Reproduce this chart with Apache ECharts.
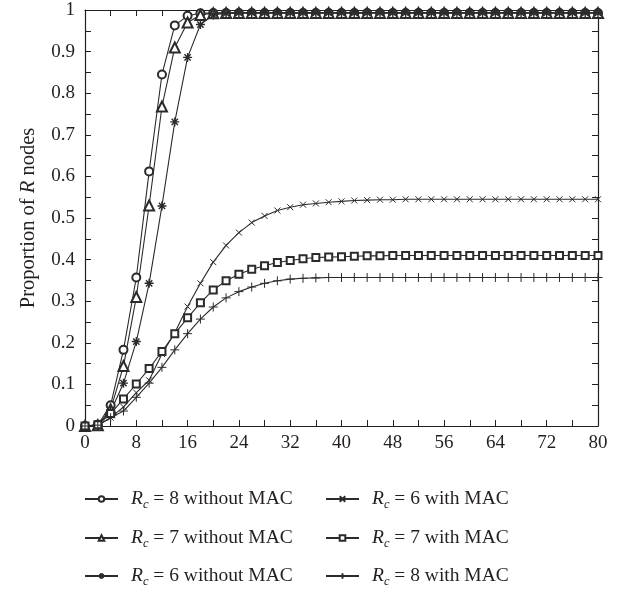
<!DOCTYPE html>
<html>
<head>
<meta charset="utf-8">
<script src="https://cdn.jsdelivr.net/npm/echarts@6/dist/echarts.min.js"></script>
<style>
  html, body { margin: 0; padding: 0; background: #fff; }
  #main { width: 625px; height: 592px; }
</style>
</head>
<body>
<div id="main"></div>
<script>
// sampling points on the x axis
var steps = [0, 2, 4, 6, 8, 10, 12, 14, 16, 18, 20, 22, 24, 26, 28, 30, 32, 34, 36, 38, 40,
             42, 44, 46, 48, 50, 52, 54, 56, 58, 60, 62, 64, 66, 68, 70, 72, 74, 76, 78, 80];

// without MAC
var rc8NoMac = [0, 0.003, 0.05, 0.183, 0.357, 0.612, 0.845, 0.963, 0.986, 0.992, 0.993,
                0.993, 0.993, 0.993, 0.993, 0.993, 0.993, 0.993, 0.993, 0.993, 0.993,
                0.993, 0.993, 0.993, 0.993, 0.993, 0.993, 0.993, 0.993, 0.993, 0.993,
                0.993, 0.993, 0.993, 0.993, 0.993, 0.993, 0.993, 0.993, 0.993, 0.993];
var rc7NoMac = [0, 0.002, 0.04, 0.144, 0.31, 0.53, 0.768, 0.91, 0.97, 0.988, 0.992,
                0.993, 0.993, 0.993, 0.993, 0.993, 0.993, 0.993, 0.993, 0.993, 0.993,
                0.993, 0.993, 0.993, 0.993, 0.993, 0.993, 0.993, 0.993, 0.993, 0.993,
                0.993, 0.993, 0.993, 0.993, 0.993, 0.993, 0.993, 0.993, 0.993, 0.993];
var rc6NoMac = [0, 0.002, 0.035, 0.103, 0.203, 0.343, 0.529, 0.731, 0.886, 0.965, 0.988,
                0.992, 0.993, 0.993, 0.993, 0.993, 0.993, 0.993, 0.993, 0.993, 0.993,
                0.993, 0.993, 0.993, 0.993, 0.993, 0.993, 0.993, 0.993, 0.993, 0.993,
                0.993, 0.993, 0.993, 0.993, 0.993, 0.993, 0.993, 0.993, 0.993, 0.993];
// with MAC
var rc6Mac = [0, 0.002, 0.02, 0.046, 0.08, 0.11, 0.173, 0.224, 0.287, 0.343, 0.394,
              0.434, 0.465, 0.489, 0.505, 0.518, 0.526, 0.532, 0.535, 0.538, 0.54,
              0.542, 0.543, 0.544, 0.544, 0.545, 0.545, 0.545, 0.545, 0.545, 0.545,
              0.545, 0.545, 0.545, 0.545, 0.545, 0.545, 0.545, 0.545, 0.545, 0.545];
var rc7Mac = [0, 0.003, 0.03, 0.065, 0.101, 0.138, 0.179, 0.222, 0.26, 0.296, 0.327,
              0.349, 0.365, 0.377, 0.385, 0.393, 0.398, 0.402, 0.405, 0.406, 0.407,
              0.408, 0.409, 0.409, 0.41, 0.41, 0.41, 0.41, 0.41, 0.41, 0.41,
              0.41, 0.41, 0.41, 0.41, 0.41, 0.41, 0.41, 0.41, 0.41, 0.41];
var rc8Mac = [0, 0.002, 0.02, 0.036, 0.069, 0.103, 0.141, 0.183, 0.222, 0.257, 0.286,
              0.308, 0.323, 0.334, 0.343, 0.349, 0.353, 0.355, 0.356, 0.357, 0.357,
              0.357, 0.357, 0.357, 0.357, 0.357, 0.357, 0.357, 0.357, 0.357, 0.357,
              0.357, 0.357, 0.357, 0.357, 0.357, 0.357, 0.357, 0.357, 0.357, 0.357];

var names = ['Rc = 8 without MAC', 'Rc = 7 without MAC', 'Rc = 6 without MAC',
             'Rc = 6 with MAC', 'Rc = 7 with MAC', 'Rc = 8 with MAC'];

var ink = '#231f20';
var serif = 'Liberation Serif';
var fs = 19;

var starPath = 'path://M5,0L5,10M0,5L10,5M1.5,1.5L8.5,8.5M1.5,8.5L8.5,1.5';
var crossPath = 'path://M0,0L10,10M0,10L10,0';
var plusPath = 'path://M5,0L5,10M0,5L10,5';

function pairs(vals) {
    return steps.map(function (x, i) { return [x, vals[i]]; });
}

function makeSeries(name, vals, symbol, size, bw) {
    return {
        name: name,
        type: 'line',
        data: pairs(vals),
        symbol: symbol,
        symbolSize: size,
        showAllSymbol: true,
        lineStyle: { color: '#2b2b2b', width: 1.1 },
        itemStyle: { color: '#2b2b2b', borderColor: '#2b2b2b', borderWidth: bw || 1 },
        emphasis: { disabled: true },
        animation: false
    };
}

// legend text: italic R with subscript c
function legendText(name) {
    return '{i|R}{s|c}{t|' + name.slice(2) + '}';
}
var legendRich = {
    i: { fontFamily: serif, fontSize: 19.5, fontStyle: 'italic', color: ink, lineHeight: 24, verticalAlign: 'middle' },
    s: { fontFamily: serif, fontSize: 12.5, fontStyle: 'italic', color: ink, lineHeight: 24, verticalAlign: 'bottom' },
    t: { fontFamily: serif, fontSize: 19.5, color: ink, lineHeight: 24, verticalAlign: 'middle' }
};

function axisCommon(extra) {
    var base = {
        type: 'value',
        axisLine: { show: true, onZero: false, lineStyle: { color: ink, width: 1.2 } },
        axisTick: { show: true, inside: true, length: 6, lineStyle: { color: ink, width: 1 } },
        minorTick: { show: true, splitNumber: 2, length: 6, lineStyle: { color: ink, width: 1 } },
        splitLine: { show: false },
        axisLabel: { fontFamily: serif, fontSize: fs, color: ink }
    };
    for (var k in extra) base[k] = extra[k];
    return base;
}

// one legend per entry so the two columns sit exactly where they should
function legendItem(name, left, top) {
    return {
        data: [name],
        left: left, top: top,
        padding: 0,
        itemWidth: 33, itemHeight: 7,
        formatter: legendText,
        textStyle: { padding: [0, 0, 0, 8], rich: legendRich },
        selectedMode: false
    };
}

var chart = echarts.init(document.getElementById('main'), null, { renderer: 'canvas' });
chart.setOption({
    backgroundColor: '#fff',
    animation: false,
    grid: { left: 85, right: 27, top: 10, bottom: 166 },
    legend: [
        legendItem(names[0], 84, 489),
        legendItem(names[1], 84, 528),
        legendItem(names[2], 84, 566),
        legendItem(names[3], 325, 489),
        legendItem(names[4], 325, 528),
        legendItem(names[5], 325, 566)
    ],
    xAxis: [
        axisCommon({ min: 0, max: 80, interval: 8, position: 'bottom',
            axisLabel: { fontFamily: serif, fontSize: fs, color: ink, margin: 8 } }),
        axisCommon({ min: 0, max: 80, interval: 8, position: 'top', axisLabel: { show: false } })
    ],
    yAxis: [
        axisCommon({ min: 0, max: 1, interval: 0.1, position: 'left',
            axisLabel: { fontFamily: serif, fontSize: fs, color: ink, margin: 10 },
            name: '{t|Proportion of }{i|R}{t| nodes}',
            nameLocation: 'middle', nameGap: 46, nameRotate: 90,
            nameTextStyle: { rich: {
                t: { fontFamily: serif, fontSize: 20.5, color: ink },
                i: { fontFamily: serif, fontSize: 20.5, fontStyle: 'italic', color: ink }
            } } }),
        axisCommon({ min: 0, max: 1, interval: 0.1, position: 'right', axisLabel: { show: false } })
    ],
    series: [
        makeSeries(names[0], rc8NoMac, 'emptyCircle', 8),
        makeSeries(names[1], rc7NoMac, 'emptyTriangle', 10),
        makeSeries(names[2], rc6NoMac, starPath, 9, 1.4),
        makeSeries(names[3], rc6Mac, crossPath, 6),
        makeSeries(names[4], rc7Mac, 'emptyRect', 7),
        makeSeries(names[5], rc8Mac, plusPath, 9)
    ]
});
</script>
</body>
</html>
